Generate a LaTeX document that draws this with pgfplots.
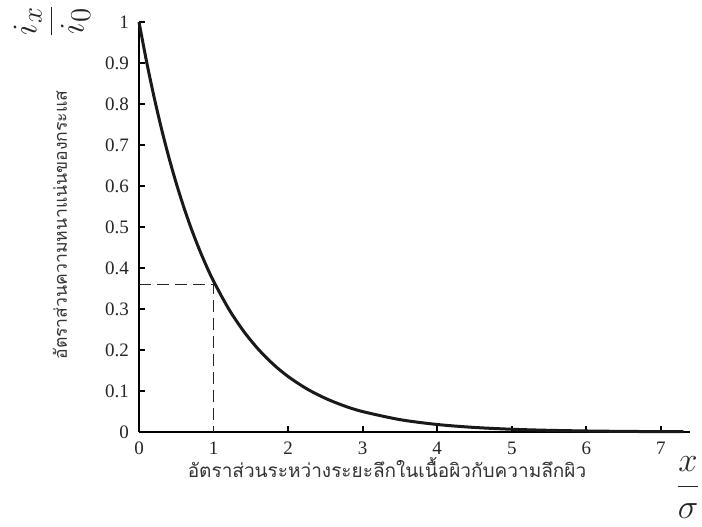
\documentclass[border=0pt]{standalone}
\usepackage{pgfplots}
\pgfplotsset{compat=1.18}
\usepackage{fontspec}
\setmainfont{Liberation Serif}
\newfontfamily\thaifont[Script=Thai]{Loma}

\begin{document}
\begin{tikzpicture}
\path[use as bounding box] (0,0) rectangle (351pt,263pt);
\begin{axis}[
  at={(69.5pt,47pt)}, anchor=origin,
  scale only axis,
  width=275.5pt, height=205pt,
  xmin=0, xmax=7.39, ymin=0, ymax=1,
  axis lines=left,
  axis line style={-, line width=1.1pt},
  tick align=inside,
  major tick length=3pt,
  tick style={line width=0.9pt, black},
  xtick={0,1,...,7},
  ytick={0,0.1,...,1},
  clip=false,
  /pgf/number format/assume math mode=true,
  ticklabel style={font=\fontsize{9.5}{11}\selectfont, text=black!85},
  yticklabel style={/pgf/number format/fixed, /pgf/number format/precision=1, xshift=-1.5pt},
  xticklabel style={yshift=-1.5pt},
]
% current density ratio i_x / i_0 versus depth ratio x / sigma
\addplot[line width=1.5pt, black!90, smooth] coordinates {
  (0,1) (0.1,0.9048) (0.2,0.8187) (0.3,0.7408) (0.4,0.6703) (0.5,0.6065)
  (0.6,0.5488) (0.7,0.4966) (0.8,0.4493) (0.9,0.4066) (1.0,0.3679)
  (1.2,0.3012) (1.4,0.2466) (1.6,0.2019) (1.8,0.1653) (2.0,0.1353)
  (2.25,0.1054) (2.5,0.0821) (2.75,0.0639) (3.0,0.0498) (3.5,0.0302)
  (4.0,0.0183) (4.5,0.0111) (5.0,0.0067) (5.5,0.0041) (6.0,0.0025)
  (6.5,0.0015) (7.0,0.0009) (7.3,0.0007)
};
% reading at one skin depth
\addplot[line width=0.7pt, black!85, dash pattern=on 6pt off 3pt] coordinates {
  (0,0.36) (1,0.36) (1,0)
};
\end{axis}
\node[rotate=90, text=black!80, font=\thaifont\fontsize{8.8}{10}\selectfont] at (30pt,150.5pt) {อัตราส่วนความหนาแน่นของกระแส};
\node[text=black!80, font=\thaifont\fontsize{9.5}{11}\selectfont] at (193.5pt,29.5pt) {อัตราส่วนระหว่างระยะลึกในเนื้อผิวกับความลึกผิว};
\node[rotate=90, text=black!85, font=\fontsize{19}{22}\selectfont, inner sep=0pt] at (26pt,252.5pt) {$\displaystyle\frac{i_x}{i_0}$};
\node[text=black!85, font=\fontsize{19}{22}\selectfont, inner sep=0pt] at (344pt,19pt) {$\displaystyle\frac{x}{\sigma}$};
\end{tikzpicture}
\end{document}
